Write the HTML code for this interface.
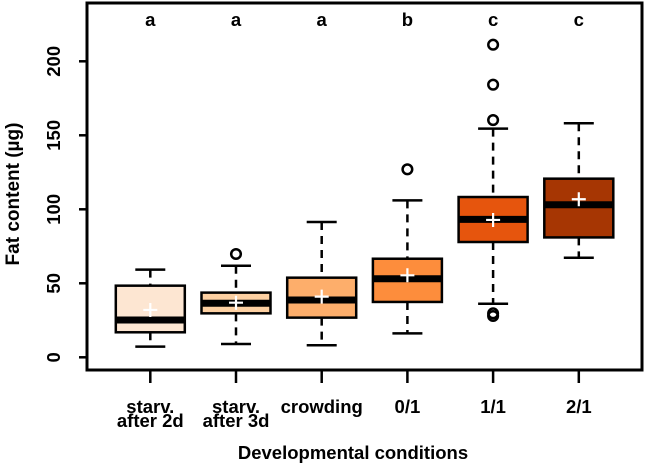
<!DOCTYPE html>
<html><head><meta charset="utf-8"><style>
html,body{margin:0;padding:0;background:#fff;}
svg{display:block;font-family:"Liberation Sans",Arial,sans-serif;font-weight:bold;}
</style></head><body>
<svg id="chart" width="645" height="466"></svg>
<script>
const categories=[["starv.","after 2d"],["starv.","after 3d"],["crowding"],["0/1"],["1/1"],["2/1"]];
const lowerWhisker=[7.2,9,8.1,16.2,36.2,67.3];
const q1=[16.9,29.7,26.8,37.4,77.9,81];
const medians=[25.2,36.5,38.7,53.1,93.2,103.1];
const q3=[48.4,43.7,53.8,66.6,108.3,120.7];
const upperWhisker=[59.2,61.9,91.4,106,154.5,158.1];
const means=[32,36.9,41,55.4,92.8,106.8];
const outliers=[[],[69.8],[],[127],[211.2,184.2,160.3,29.7,27.9],[]];
const letters=["a","a","a","b","c","c"];
const fills=["#fde6d2","#fdd0a2","#fdae6b","#fd8d3c","#e6550d","#a63603"];
const yTicks=[0,50,100,150,200];

const NS="http://www.w3.org/2000/svg";
const svg=document.getElementById('chart');
const L=87,R=642,T=3,B=370;
const y=v=>357.3-v*1.48;
const x=i=>150.3+i*85.7;
function mk(tag,attrs,parent){const e=document.createElementNS(NS,tag);for(const k in attrs)e.setAttribute(k,attrs[k]);(parent||svg).appendChild(e);return e;}

const frame=mk('rect',{x:L,y:T,width:R-L,height:B-T,fill:'none',stroke:'#000','stroke-width':3});



yTicks.forEach(v=>{
  const t=mk('line',{x1:79,x2:L,y1:y(v),y2:y(v),stroke:'#000','stroke-width':2.5});
  
  
  const lb=mk('text',{x:0,y:0,'font-size':18.5,'text-anchor':'middle',transform:`translate(60,${y(v)}) rotate(-90)`});
  lb.textContent=v;
  
  
});
const yt=mk('text',{x:0,y:0,'font-size':19,'text-anchor':'middle',transform:`translate(19,194) rotate(-90)`});
yt.textContent='Fat content (µg)';


const xt=mk('text',{x:353,y:459,'font-size':18.5,'text-anchor':'middle'});
xt.textContent='Developmental conditions';



categories.forEach((c,i)=>{
  const cx=x(i);
  const g=mk('g',{});
  
  
  mk('line',{x1:cx,x2:cx,y1:B,y2:383,stroke:'#000','stroke-width':2.5},g);
  c.forEach((s,j)=>{
    const t=mk('text',{x:cx,y:413+j*14,'font-size':18.5,'text-anchor':'middle'},g);
    t.textContent=s;
    
    
  });
  mk('line',{x1:cx,x2:cx,y1:y(upperWhisker[i]),y2:y(q3[i]),stroke:'#000','stroke-width':2.5,'stroke-dasharray':'8,6'},g);
  mk('line',{x1:cx,x2:cx,y1:y(q1[i]),y2:y(lowerWhisker[i]),stroke:'#000','stroke-width':2.5,'stroke-dasharray':'8,6'},g);
  mk('line',{x1:cx-15,x2:cx+15,y1:y(upperWhisker[i]),y2:y(upperWhisker[i]),stroke:'#000','stroke-width':2.5},g);
  mk('line',{x1:cx-15,x2:cx+15,y1:y(lowerWhisker[i]),y2:y(lowerWhisker[i]),stroke:'#000','stroke-width':2.5},g);
  mk('rect',{x:cx-34.5,y:y(q3[i]),width:69,height:y(q1[i])-y(q3[i]),fill:fills[i],stroke:'#000','stroke-width':2.5},g);
  mk('line',{x1:cx-34.5,x2:cx+34.5,y1:y(medians[i]),y2:y(medians[i]),stroke:'#000','stroke-width':7},g);
  const my=y(means[i]);
  mk('path',{d:`M${cx-7} ${my}H${cx+7}M${cx} ${my-7}V${my+7}`,stroke:'#fff','stroke-width':2.2},g);
  outliers[i].forEach(v=>{
    const o=mk('circle',{cx:cx,cy:y(v),r:4.8,fill:'none',stroke:'#000','stroke-width':2.5},g);
    
    
  });
  const lt=mk('text',{x:cx,y:26,'font-size':18.5,'text-anchor':'middle'},g);
  lt.textContent=letters[i];
  
  
});
</script>
</body></html>
